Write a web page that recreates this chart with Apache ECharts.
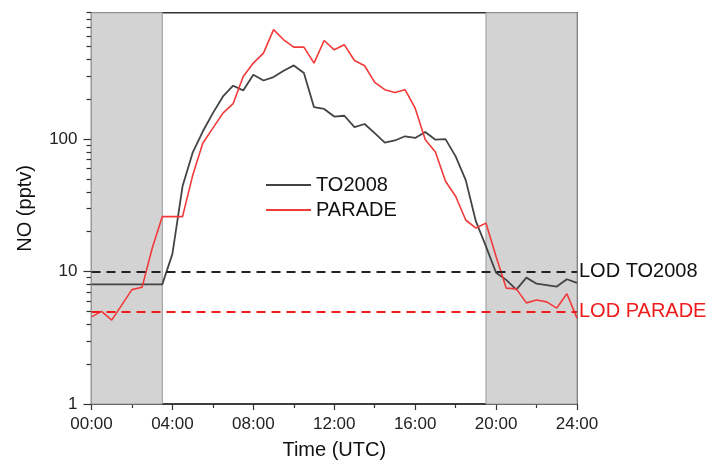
<!DOCTYPE html>
<html>
<head>
<meta charset="utf-8">
<script src="https://cdn.jsdelivr.net/npm/echarts@6/dist/echarts.min.js"></script>
<style>html,body{margin:0;padding:0;background:#fff}#c{width:713px;height:468px}</style>
</head>
<body>
<div id="c"></div>
<script>
var hours = [0,0.5,1,1.5,2,2.5,3,3.5,4,4.5,5,5.5,6,6.5,7,7.5,8,8.5,9,9.5,10,10.5,11,11.5,12,12.5,13,13.5,14,14.5,15,15.5,16,16.5,17,17.5,18,18.5,19,19.5,20,20.5,21,21.5,22,22.5,23,23.5,24];
var to2008 = [8,8,8,8,8,8,8,8,13.6,44,79,114,157,210,253,233,306,277,294,328,360,315,174,169,148,150,123,130,111,94,97.6,105,102,113,99,100,74,49,24,15.5,9.8,8.65,7.3,9.0,8.1,7.9,7.7,8.75,8.2];
var parade = [4.55,5.0,4.3,5.6,7.3,7.6,15,26,26,26,53,93,121,157,185,297,375,446,670,562,495,495,375,555,472,515,392,358,268,236,225,236,171,99,80,48,37,24.5,21.3,23.2,13,7.5,7.4,5.8,6.1,5.9,5.3,6.8,4.45];
var xTicks = [0,4,8,12,16,20,24];
var yMajor = [1,10,100];
var yMinor = [2,3,4,5,6,7,8,9,20,30,40,50,60,70,80,90,200,300,400,500,600,700,800,900];
var nightPeriods = [[0,3.5],[19.5,24]];
var lodTO2008 = 10, lodPARADE = 5;

function pairs(v){ return hours.map(function(h,i){ return [h, v[i]]; }); }
var FONT = 'Liberation Sans';
var chart = echarts.init(document.getElementById('c'), null, {renderer:'canvas'});
chart.setOption({
  animation: false,
  textStyle: {fontFamily: FONT},
  grid: {left: 91.5, right: 136, top: 12.7, bottom: 64, show: true, borderColor: '#333', borderWidth: 1.5, backgroundColor: 'transparent'},
  legend: {
    data: [{name: 'TO2008', icon: 'rect'}, {name: 'PARADE', icon: 'rect'}],
    orient: 'vertical', left: 261, top: 170,
    itemWidth: 45, itemHeight: 2, itemGap: 5,
    textStyle: {fontSize: 20, color: '#111', fontFamily: FONT}
  },
  xAxis: {
    type: 'value', min: 0, max: 24, interval: 4,
    name: 'Time (UTC)', nameLocation: 'middle', nameGap: 36,
    nameTextStyle: {fontSize: 20, color: '#111', fontFamily: FONT},
    axisLine: {lineStyle: {color: '#333', width: 1.5}},
    axisTick: {length: 6, lineStyle: {color: '#333', width: 1.2}},
    minorTick: {show: true, splitNumber: 2, length: 4, lineStyle: {color: '#333', width: 1.2}},
    splitLine: {show: false},
    axisLabel: {fontSize: 17, color: '#222', margin: 12, formatter: function(v){ return (v<10?'0':'')+v+':00'; }}
  },
  yAxis: [{
    type: 'log', logBase: 10, min: 1, max: 900,
    name: 'NO (pptv)', nameLocation: 'middle', nameGap: 56, nameRotate: 90,
    nameTextStyle: {fontSize: 20, color: '#111', fontFamily: FONT},
    axisLine: {show: true, lineStyle: {color: '#333', width: 1.5}},
    axisTick: {show: true, length: 8, customValues: yMajor, lineStyle: {color: '#333', width: 1.2}},
    axisLabel: {fontSize: 17, color: '#222', margin: 14, customValues: yMajor},
    splitLine: {show: false}
  },{
    type: 'log', logBase: 10, min: 1, max: 900, position: 'left',
    axisLine: {show: false},
    axisTick: {show: true, length: 5, customValues: yMinor, lineStyle: {color: '#333', width: 1.2}},
    axisLabel: {show: false},
    splitLine: {show: false}
  }],
  series: [{
    type: 'line', data: [], silent: true, z: 1,
    markArea: {silent: true, itemStyle: {color: '#d3d3d3', borderColor: '#9a9a9a', borderWidth: 1},
      data: nightPeriods.map(function(p){ return [{xAxis: p[0]}, {xAxis: p[1]}]; })}
  },{
    name: 'TO2008', type: 'line', data: pairs(to2008), showSymbol: false, symbol: 'none', z: 3,
    lineStyle: {color: '#444', width: 1.8}, itemStyle: {color: '#444'},
    markLine: {silent: true, symbol: 'none', lineStyle: {color: '#222', type: [9,6], width: 2},
      label: {position: 'end', distance: 2, fontSize: 20, color: '#111', fontFamily: FONT, formatter: 'LOD TO2008'},
      data: [{yAxis: lodTO2008}]}
  },{
    name: 'PARADE', type: 'line', data: pairs(parade), showSymbol: false, symbol: 'none', z: 4,
    lineStyle: {color: '#f23a3a', width: 1.6}, itemStyle: {color: '#f23a3a'},
    markLine: {silent: true, symbol: 'none', lineStyle: {color: '#ee1c1c', type: [9,6], width: 2},
      label: {position: 'end', distance: 2, fontSize: 20, color: '#ee1c1c', fontFamily: FONT, formatter: 'LOD PARADE'},
      data: [{yAxis: lodPARADE}]}
  }]
});
</script>
</body>
</html>
